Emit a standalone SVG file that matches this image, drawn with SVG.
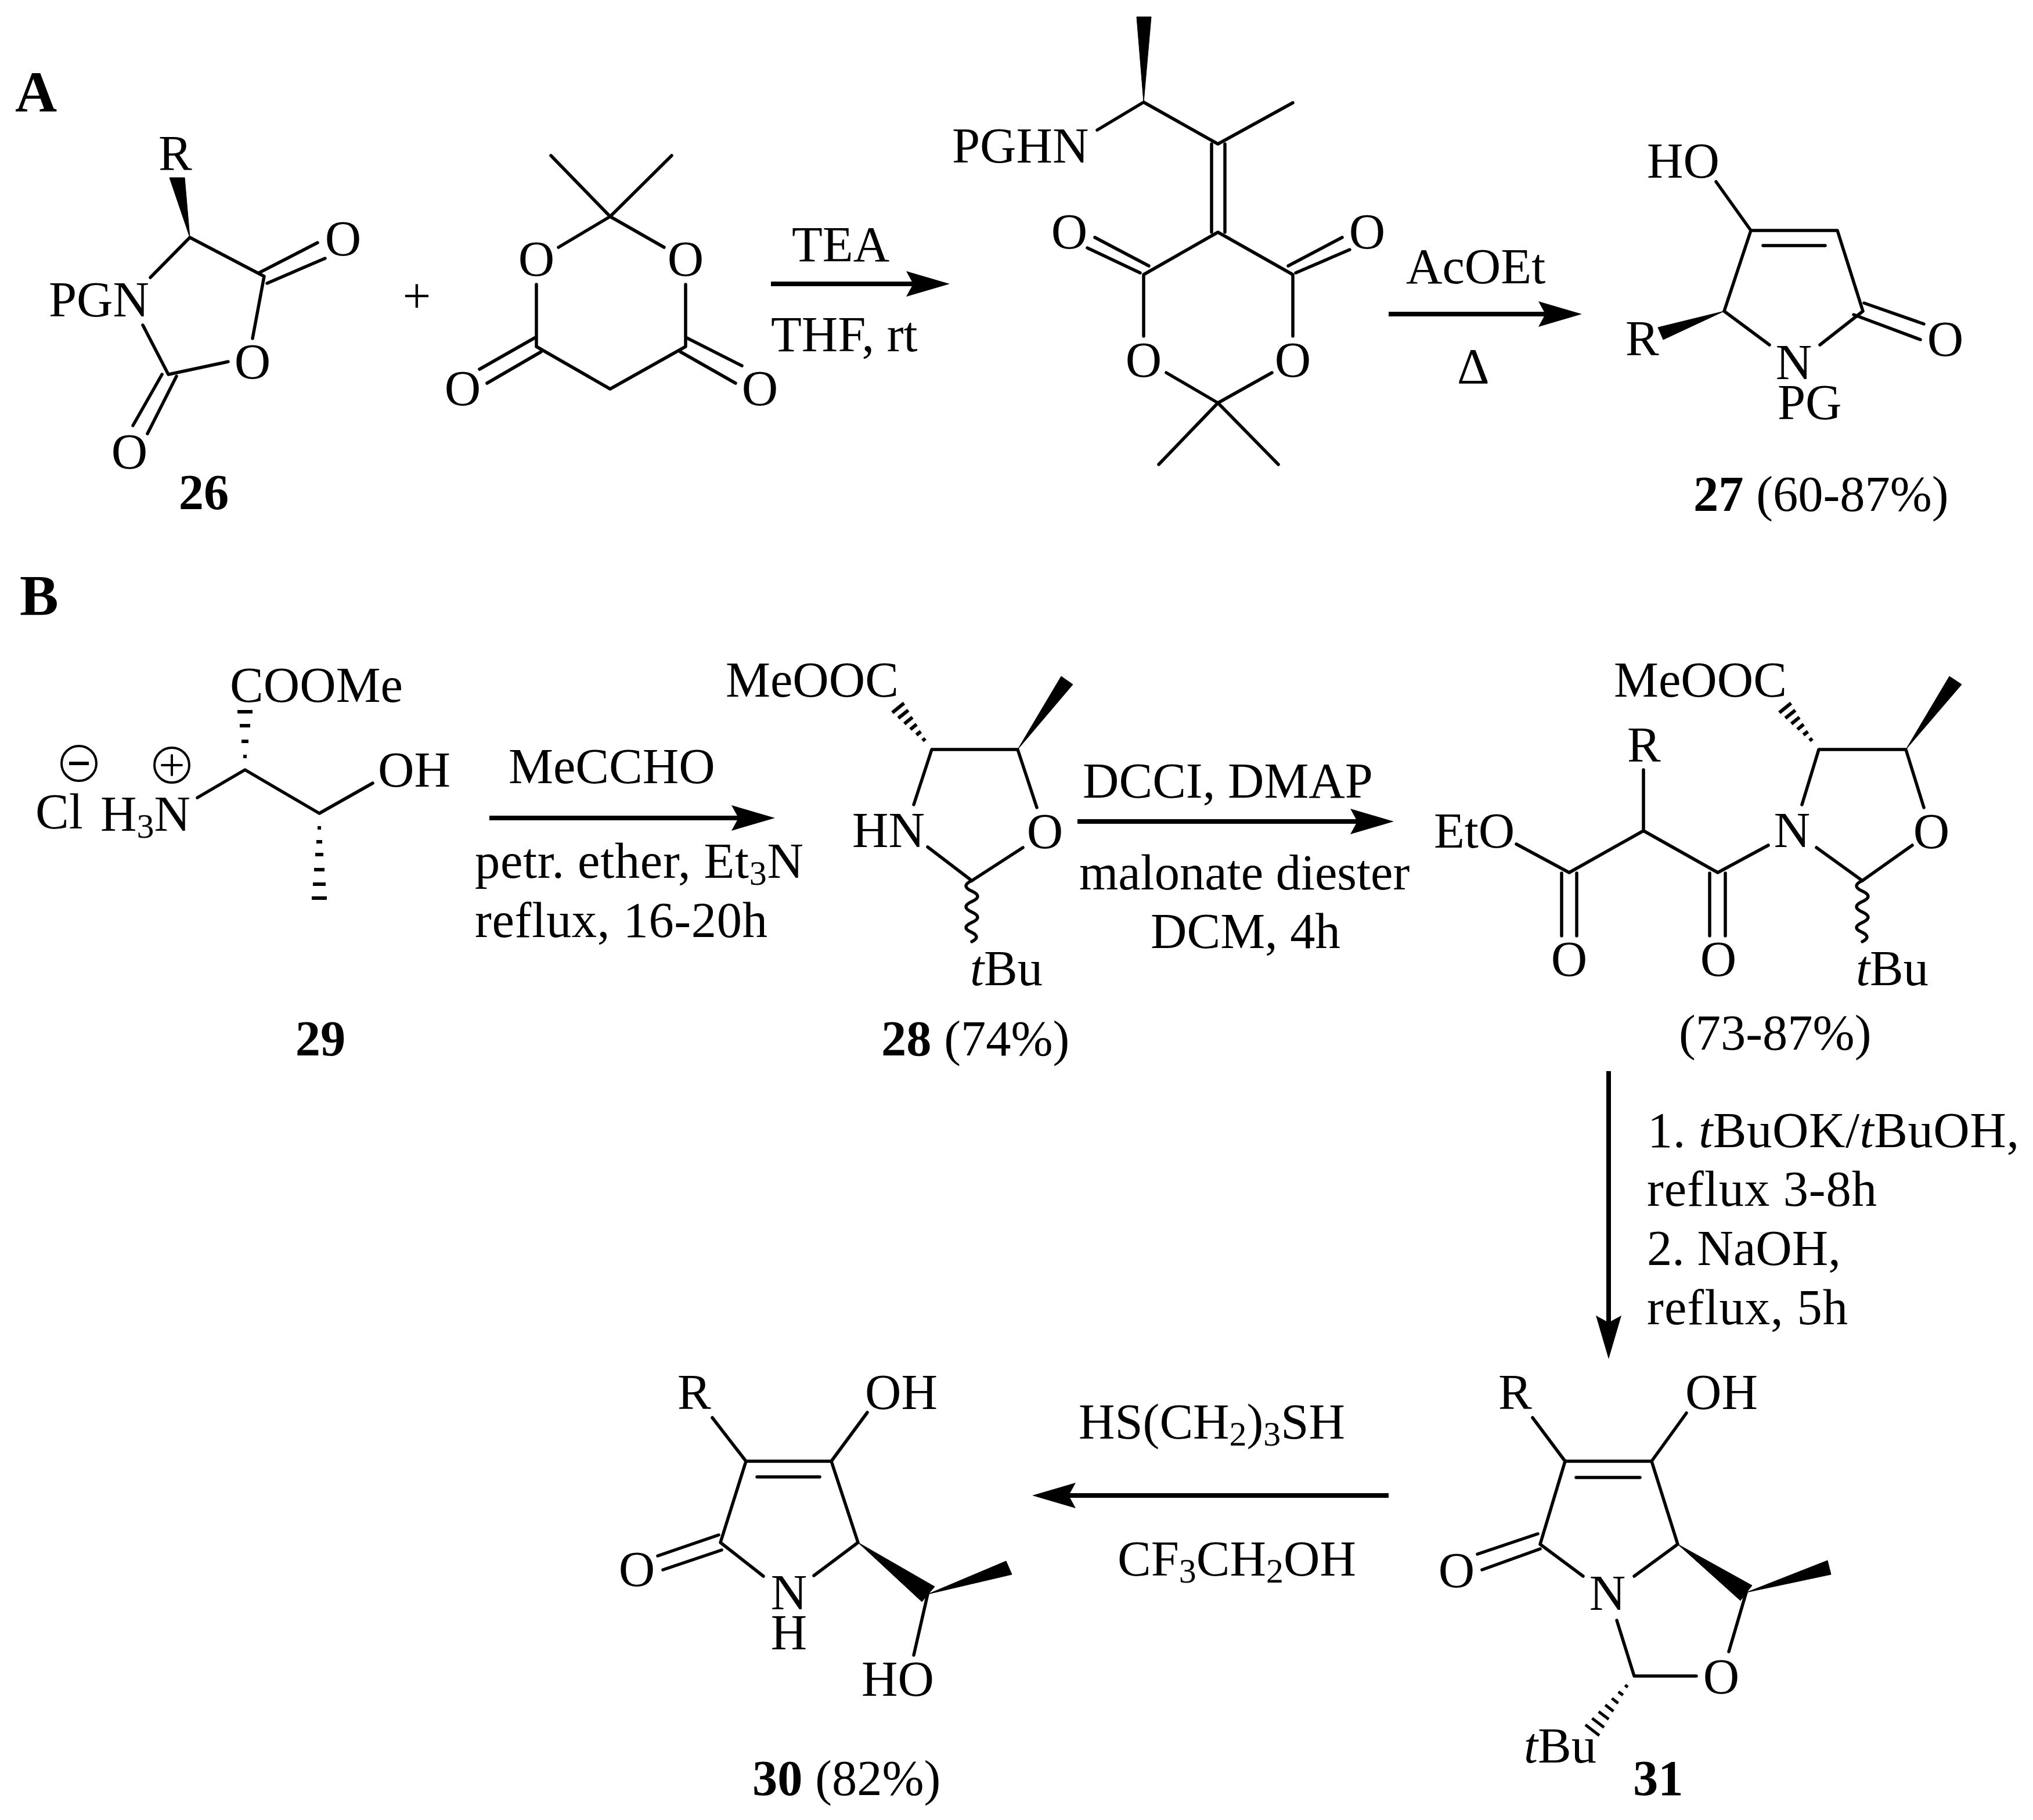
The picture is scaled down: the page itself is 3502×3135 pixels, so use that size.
<svg xmlns="http://www.w3.org/2000/svg" xmlns:xlink="http://www.w3.org/1999/xlink" width="3502" height="3135" viewBox="0 0 3502 3135">
<style>
text{font-family:"Liberation Serif","Times New Roman",serif;font-size:86.5px;fill:#000}
.c{text-anchor:middle}
.b{font-weight:bold}
.h{font-size:100px;font-weight:bold}
.i{font-style:italic}
.s{font-size:60px}
line,polyline,.w{stroke:#000;stroke-width:5.5;fill:none;stroke-linecap:round;stroke-linejoin:round}
.a{stroke-width:8;stroke-linecap:butt}
.f{fill:#000;stroke:#000;stroke-width:1}
.k{stroke-width:6;stroke-linecap:butt}
.ci{fill:none;stroke:#000;stroke-width:4}
</style>
<defs>
<marker id="ah" markerUnits="userSpaceOnUse" markerWidth="76" markerHeight="44" viewBox="0 0 76 44" refX="12" refY="22" orient="auto"><path d="M0,0 L75,22 L0,44 L12,22 Z" fill="#000"/></marker>
<path id="hash28" stroke="#000" fill="none" stroke-width="6" d="M1589,1276L1594,1272M1578.5,1266L1586.3,1260M1568.2,1256.5L1579,1247.7M1557.8,1246.9L1571.8,1235.5M1547.4,1237.2L1564.6,1223.4M1537.1,1227.6L1557.3,1211.2"/>
<path id="wavy" class="w" d="M1674,1517q-20,9 0,18q20,9 0,18q-20,9 0,18q20,9 0,18q-20,9 0,17q16,8 0,16"/>
</defs>

<text class="h" x="26" y="192">A</text>
<text class="h" x="34" y="1059">B</text>

<g id="connectors">
<line class="a" x1="1328" y1="489" x2="1573" y2="489" marker-end="url(#ah)"/>
<line class="a" x1="2392" y1="541" x2="2662" y2="541" marker-end="url(#ah)"/>
<line class="a" x1="843" y1="1409" x2="1272" y2="1409" marker-end="url(#ah)"/>
<line class="a" x1="1856" y1="1415" x2="2338" y2="1415" marker-end="url(#ah)"/>
<line class="a" x1="2771" y1="1845" x2="2771" y2="2278" marker-end="url(#ah)"/>
<line class="a" x1="2392" y1="2576" x2="1841" y2="2576" marker-end="url(#ah)"/>
</g>

<g id="compound-26">
<polygon class="f" points="327,409 292,306 318,306"/>
<polyline points="259,478 327,409 455,476 435,583"/>
<polyline points="246,560 290,645 393,623"/>
<line x1="446" y1="470" x2="547" y2="418"/><line x1="460" y1="488" x2="560" y2="445"/>
<line x1="279" y1="645" x2="229" y2="733"/><line x1="304" y1="648" x2="254" y2="747"/>
<text x="273" y="293">R</text><text x="84" y="545">PGN</text>
<text class="c" x="591" y="440">O</text><text class="c" x="435" y="652">O</text><text class="c" x="223" y="807">O</text>
<text class="b c" x="351" y="877">26</text>
</g>
<text class="c" x="718" y="539">+</text>

<g id="meldrum">
<polyline points="949,268 1051,373 1157,268"/>
<polyline points="962,426 1051,373 1144,426"/>
<polyline points="924,490 924,597 1051,670 1181,597 1181,490"/>
<line x1="921" y1="582" x2="826" y2="636"/><line x1="932" y1="606" x2="839" y2="660"/>
<line x1="1183" y1="582" x2="1278" y2="630"/><line x1="1172" y1="606" x2="1267" y2="660"/>
<text class="c" x="924" y="475">O</text><text class="c" x="1181" y="475">O</text>
<text class="c" x="797" y="698">O</text><text class="c" x="1309" y="698">O</text>
</g>

<text x="1364" y="450">TEA</text>
<text x="1328" y="605">THF, rt</text>

<g id="intermediate">
<polygon class="f" points="1970,176 1958,29 1983,29"/>
<polyline points="1890,224 1970,176 2098,248 2227,177"/>
<line x1="2087" y1="248" x2="2087" y2="400"/><line x1="2110" y1="248" x2="2110" y2="400"/>
<polyline points="1970,579 1970,473 2098,400 2227,473 2227,579"/>
<line x1="1964" y1="470" x2="1873" y2="427"/><line x1="1979" y1="458" x2="1886" y2="409"/>
<line x1="2219" y1="458" x2="2312" y2="409"/><line x1="2232" y1="470" x2="2325" y2="430"/>
<polyline points="2009,642 2098,694 2191,642"/>
<polyline points="1996,800 2098,694 2202,800"/>
<text x="1640" y="280">PGHN</text>
<text class="c" x="1842" y="428">O</text><text class="c" x="2355" y="428">O</text>
<text class="c" x="1970" y="649">O</text><text class="c" x="2227" y="649">O</text>
</g>

<text x="2422" y="488">AcOEt</text>
<text x="2510" y="660">Δ</text>

<g id="compound-27">
<polyline points="2956,313 3016,397 3165,397 3209,536 3135,594"/>
<polyline points="3016,397 2970,536 3048,594"/>
<line x1="3037" y1="423" x2="3144" y2="423"/>
<line x1="3211" y1="522" x2="3314" y2="558"/><line x1="3193" y1="542" x2="3308" y2="585"/>
<polygon class="f" points="2970,536 2856,564 2865,585"/>
<text x="2837" y="306">HO</text><text x="2800" y="612">R</text>
<text class="c" x="3090" y="653">N</text><text x="3062" y="722">PG</text>
<text class="c" x="3351" y="613">O</text>
<text x="2917" y="880"><tspan class="b">27</tspan> (60-87%)</text>
</g>

<g id="compound-29">
<line class="k" x1="409" y1="1226" x2="435" y2="1226"/><line class="k" x1="413" y1="1250" x2="431" y2="1250"/>
<line class="k" x1="416" y1="1277" x2="428" y2="1277"/><line class="k" x1="419" y1="1303" x2="425" y2="1303"/>
<polyline points="340,1374 422,1326 550,1401 642,1349"/>
<line class="k" x1="547" y1="1426" x2="553" y2="1426"/><line class="k" x1="545" y1="1450" x2="555" y2="1450"/>
<line class="k" x1="543" y1="1472" x2="557" y2="1472"/><line class="k" x1="541" y1="1498" x2="559" y2="1498"/>
<line class="k" x1="539" y1="1523" x2="561" y2="1523"/><line class="k" x1="537" y1="1547" x2="563" y2="1547"/>
<text x="396" y="1209">COOMe</text><text x="651" y="1355">OH</text>
<text x="61" y="1427">Cl</text>
<text x="173" y="1431">H<tspan class="s" dy="12">3</tspan><tspan dy="-12">N</tspan></text>
<circle class="ci" cx="136" cy="1315" r="30"/><line class="k" x1="119" y1="1315" x2="153" y2="1315"/>
<circle class="ci" cx="296" cy="1318" r="30"/><line x1="279" y1="1318" x2="313" y2="1318" style="stroke-width:4"/><line x1="296" y1="1301" x2="296" y2="1335" style="stroke-width:4"/>
<text class="b c" x="552" y="1818">29</text>
</g>

<text x="876" y="1349">MeCCHO</text>
<text x="818" y="1512" textLength="566">petr. ether, Et<tspan class="s" dy="12">3</tspan><tspan dy="-12">N</tspan></text>
<text x="818" y="1614" textLength="504">reflux, 16-20h</text>

<g id="compound-28">
<use href="#hash28"/>
<polyline points="1574,1386 1605,1291 1753,1291 1786,1391"/>
<polygon class="f" points="1753,1291 1828,1165 1848,1179"/>
<polyline points="1598,1459 1674,1517 1762,1460"/>
<use href="#wavy"/>
<text x="1250" y="1200">MeOOC</text><text x="1468" y="1459">HN</text>
<text class="c" x="1800" y="1461">O</text>
<text x="1671" y="1697"><tspan class="i">t</tspan>Bu</text>
<text x="1518" y="1818"><tspan class="b">28</tspan> (74%)</text>
</g>

<text x="1865" y="1374">DCCI, DMAP</text>
<text x="1859" y="1532">malonate diester</text>
<text x="1982" y="1633">DCM, 4h</text>

<g id="compound-32">
<use href="#hash28" transform="translate(1528,0)"/>
<polyline points="3104,1386 3133,1291 3283,1291 3314,1391"/>
<polygon class="f" points="3283,1291 3358,1165 3379,1179"/>
<polyline points="3129,1460 3208,1517 3294,1456"/>
<use href="#wavy" transform="translate(1534,0)"/>
<polyline points="2612,1454 2703,1503 2831,1431 2959,1503 3046,1456"/>
<line x1="2831" y1="1326" x2="2831" y2="1431"/>
<line x1="2690" y1="1504" x2="2690" y2="1612"/><line x1="2716" y1="1504" x2="2716" y2="1612"/>
<line x1="2945" y1="1504" x2="2945" y2="1612"/><line x1="2972" y1="1504" x2="2972" y2="1612"/>
<text x="2780" y="1200">MeOOC</text>
<text x="2803" y="1312">R</text><text x="2470" y="1460">EtO</text>
<text class="c" x="3087" y="1459">N</text><text class="c" x="3327" y="1461">O</text>
<text class="c" x="2703" y="1681">O</text><text class="c" x="2960" y="1681">O</text>
<text x="3197" y="1697"><tspan class="i">t</tspan>Bu</text>
<text x="2892" y="1808">(73-87%)</text>
</g>

<text x="2838" y="1976" textLength="640"><tspan>1. </tspan><tspan class="i">t</tspan><tspan>BuOK/</tspan><tspan class="i">t</tspan><tspan>BuOH,</tspan></text>
<text x="2837" y="2077" textLength="396">reflux 3-8h</text>
<text x="2837" y="2179">2. NaOH,</text>
<text x="2837" y="2281" textLength="346">reflux, 5h</text>

<g id="compound-31">
<polyline points="2640,2442 2696,2517 2845,2517 2905,2434"/>
<line x1="2715" y1="2545" x2="2825" y2="2545"/>
<polyline points="2696,2517 2653,2660 2727,2715"/>
<polyline points="2845,2517 2890,2660 2815,2715"/>
<line x1="2649" y1="2642" x2="2545" y2="2677"/><line x1="2653" y1="2668" x2="2553" y2="2704"/>
<polygon class="f" points="2890,2660 3018,2731 2998,2757"/>
<polygon class="f" points="3008,2743 3148,2688 3154,2712"/>
<polyline points="3008,2743 2978,2845"/>
<polyline points="2785,2791 2815,2887 2922,2887"/>
<path stroke="#000" fill="none" stroke-width="5" d="M2799.2,2902.6L2804,2906.2M2787.8,2914L2795.8,2920M2776.5,2925.4L2787.5,2934M2765.2,2936.8L2779.4,2947.8M2753.8,2948.2L2771.2,2961.6M2742.5,2959.7L2763.1,2975.5M2731,2971L2755,2989.4"/>
<text x="2581" y="2427">R</text><text x="2903" y="2427">OH</text>
<text class="c" x="2509" y="2734">O</text><text class="c" x="2769" y="2773">N</text><text class="c" x="2965" y="2917">O</text>
<text x="2625" y="3036"><tspan class="i">t</tspan>Bu</text>
<text class="b" x="2813" y="3092">31</text>
</g>

<text x="1858" y="2478">HS(CH<tspan class="s" dy="12">2</tspan><tspan dy="-12">)</tspan><tspan class="s" dy="12">3</tspan><tspan dy="-12">SH</tspan></text>
<text x="1925" y="2714">CF<tspan class="s" dy="12">3</tspan><tspan dy="-12">CH</tspan><tspan class="s" dy="12">2</tspan><tspan dy="-12">OH</tspan></text>

<g id="compound-30">
<polyline points="1227,2442 1285,2517 1432,2517 1494,2433"/>
<line x1="1304" y1="2544" x2="1412" y2="2544"/>
<polyline points="1285,2517 1241,2657 1315,2715"/>
<polyline points="1432,2517 1478,2657 1402,2714"/>
<line x1="1238" y1="2644" x2="1133" y2="2680"/><line x1="1243" y1="2670" x2="1142" y2="2704"/>
<polygon class="f" points="1478,2657 1610,2733 1588,2759"/>
<polygon class="f" points="1598,2746 1733,2689 1743,2712"/>
<line x1="1598" y1="2746" x2="1574" y2="2851"/>
<text x="1167" y="2427">R</text><text x="1490" y="2427">OH</text>
<text class="c" x="1097" y="2732">O</text><text class="c" x="1359" y="2772">N</text><text class="c" x="1359" y="2841">H</text>
<text x="1484" y="2921">HO</text>
<text x="1296" y="3092"><tspan class="b">30</tspan> (82%)</text>
</g>
</svg>
